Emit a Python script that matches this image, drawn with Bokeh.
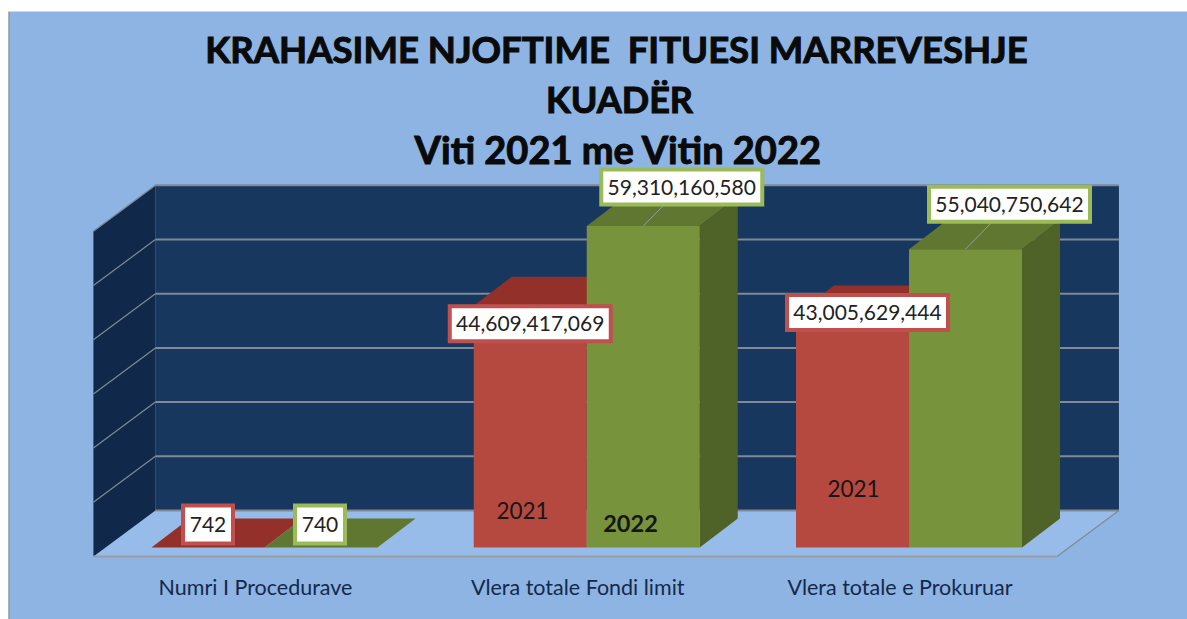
from bokeh.plotting import figure
from bokeh.models import Range1d, LinearAxis, FixedTicker
from bokeh.core.properties import value
from bokeh.embed import file_html
from bokeh.resources import INLINE

# ---- data
categories = ["Numri I Procedurave", "Vlera totale Fondi limit", "Vlera totale e Prokuruar"]
values_2021 = [742, 44609417069, 43005629444]
values_2022 = [740, 59310160580, 55040750642]
grid_values = [0, 10e9, 20e9, 30e9, 40e9, 50e9, 60e9]
title_lines = ["KRAHASIME NJOFTIME\u00a0 FITUESI MARREVESHJE", "KUADËR", "Viti 2021 me Vitin 2022"]
year_notes = ["2021", "2022", "2021"]

# ---- layout (screen pixels of the photographed page)
X0, CAT = 255.0, 322.25          # pixel of category 0, pixels per category
Y0, PPV = 547.0, 5.42e-9         # pixel of value 0, pixels per unit of value
W, H = 1187, 619
AREA_LEFT, AREA_TOP = 8, 11      # white margin round the chart area
BG, WALL, SIDE = "#8DB4E3", "#17375E", "#10294A"
GRID = "#7F8A96"
RED = ("#B5483F", "#93302A", "#7F2A25", "#C0504D")     # front, top, side, label border
GRN = ("#77933C", "#5F7730", "#4F6228", "#9BBB59")
BAR_W = 113.0
BAR_DX, BAR_DY = 38.0, 29.0      # depth of a bar
WALL_DX, WALL_DY = 62.0, 46.0    # depth of the floor
INSET_DY = 9.0                   # front floor edge lies below the bars' base
GROUP_SHIFT = 9.0                # bars sit this far right of the tick

def xu(px):
    return px / CAT
def yu(px):
    return px / PPV
def px_x(px):
    return (px - X0) / CAT
def px_y(py):
    return (Y0 - py) / PPV

p = figure(width=W, height=H, output_backend="svg", toolbar_location=None,
           x_range=Range1d(px_x(AREA_LEFT), px_x(W)),
           y_range=Range1d(px_y(H), px_y(AREA_TOP)),
           x_axis_location=None, y_axis_location=None,
           min_border=0, min_border_top=AREA_TOP, min_border_left=AREA_LEFT,
           min_border_right=0, min_border_bottom=0)
p.background_fill_color = BG
p.border_fill_color = "white"
p.outline_line_color = None
p.grid.visible = False

# ---- walls and floor
floor_l, floor_r = -0.503, 2.487
floor_y = -yu(INSET_DY)
back_y = floor_y + yu(WALL_DY)
top_v = grid_values[-1]
wdx = xu(WALL_DX)
p.patch([floor_l, floor_l + wdx, floor_r + wdx, floor_r],
        [floor_y, back_y, back_y, floor_y], fill_color="#97BCE9", line_color=None)
p.patch([floor_l + wdx, floor_r + wdx, floor_r + wdx, floor_l + wdx],
        [back_y, back_y, back_y + top_v, back_y + top_v], fill_color=WALL, line_color=None)
p.patch([floor_l, floor_l + wdx, floor_l + wdx, floor_l],
        [floor_y, back_y, back_y + top_v, floor_y + top_v], fill_color=SIDE, line_color=None)
gy = [back_y + g for g in grid_values]
p.segment(x0=[floor_l + wdx] * len(gy), y0=gy, x1=[floor_r + wdx] * len(gy), y1=gy,
          line_color=GRID, line_width=2)
p.segment(x0=[floor_l] * (len(gy) - 1), y0=[floor_y + g for g in grid_values[1:]],
          x1=[floor_l + wdx] * (len(gy) - 1), y1=[back_y + g for g in grid_values[1:]],
          line_color=GRID, line_width=1.2)
p.segment(x0=[floor_r], y0=[floor_y], x1=[floor_r + wdx], y1=[back_y], line_color=GRID, line_width=1.2)

# ---- bars
bw, bdx, bdy = xu(BAR_W), xu(BAR_DX), yu(BAR_DY)
shift = xu(GROUP_SHIFT)
def bar(left, v, cols):
    right = left + bw
    p.patch([left, left + bdx, right + bdx, right], [v, v + bdy, v + bdy, v], fill_color=cols[1], line_color=None)
    p.patch([right, right + bdx, right + bdx, right], [0, bdy, v + bdy, v], fill_color=cols[2], line_color=None)
    p.quad(left=[left], right=[right], bottom=[0], top=[v], fill_color=cols[0], line_color=None)

for i, (a, b) in enumerate(zip(values_2021, values_2022)):
    c = i + shift
    bar(c - bw, a, RED)
    bar(c, b, GRN)

# ---- leader lines and data labels
red_off = [(0, -23), (0, 18), (15, -2)]     # label centre relative to bar-front top centre, px
grn_off = [(-1, -23), (38.5, -39), (44, -45)]
box_w = [50, 161, 161]
box_h = [38, 35, 35]
font = value("Lato")

def data_label(cx, v, off, w, h, colour):
    x = cx + xu(off[0])
    y = v - yu(off[1])
    p.rect(x=[x], y=[y], width=w, height=h, width_units="screen", height_units="screen",
           fill_color="white", line_color=colour, line_width=4, line_join="miter")
    p.text(x=[x], y=[y], text=[f"{v:,}"], text_font=font, text_font_size="21px",
           text_color="#222222", text_align="center", text_baseline="middle")

for i in (1, 2):
    cx = i + shift + bw / 2
    v = values_2022[i]
    p.segment(x0=[cx], y0=[v], x1=[cx + xu(grn_off[i][0])], y1=[v - yu(grn_off[i][1])],
              line_color="#8FA0A8", line_width=1)

for i, (a, b) in enumerate(zip(values_2021, values_2022)):
    data_label(i + shift - bw / 2, a, red_off[i], box_w[i], box_h[i], RED[3])
    data_label(i + shift + bw / 2, b, grn_off[i], box_w[i], box_h[i], GRN[3])

# ---- notes on the bars
note_x = [px_x(522), px_x(630), px_x(853)]
note_y = [px_y(510), px_y(523), px_y(488)]
for x, y, t, st, sz in zip(note_x, note_y, year_notes, ["normal", "bold", "normal"], ["22.5px", "23.5px", "22.5px"]):
    p.text(x=[x], y=[y], text=[t], text_font=font, text_font_size=sz, text_font_style=st,
           text_color="#161616", text_align="center", text_baseline="middle")

# ---- title
for line, cx, cy, sz in zip(title_lines, [616, 619, 618], [48, 98, 148], ["36.5px", "36px", "38px"]):
    p.text(x=[px_x(cx)], y=[px_y(cy)], text=[line], text_font=font, text_font_size=sz,
           text_font_style="bold", text_color="#0A0A0A", text_align="center", text_baseline="middle",
           text_outline_color="#0A0A0A")

# ---- category axis, running along the floor's front edge
ax = LinearAxis(ticker=FixedTicker(ticks=[0, 1, 2]),
                major_label_overrides={i: c for i, c in enumerate(categories)},
                fixed_location=floor_y, bounds=(floor_l, floor_r),
                axis_line_color="#9A9EA0", axis_line_width=2,
                major_tick_line_color=None, minor_tick_line_color=None,
                major_label_standoff=11, major_label_text_font="Lato",
                major_label_text_font_size="21.5px", major_label_text_color="#14294A",
                major_label_text_font_style="normal")
p.add_layout(ax, "below")

# gray left edge of the chart area
p.segment(x0=[px_x(AREA_LEFT)], y0=[px_y(AREA_TOP)], x1=[px_x(AREA_LEFT)], y1=[px_y(H)], line_color="#8C8C8C", line_width=2)

open("out.html", "w").write(file_html(p, INLINE))
